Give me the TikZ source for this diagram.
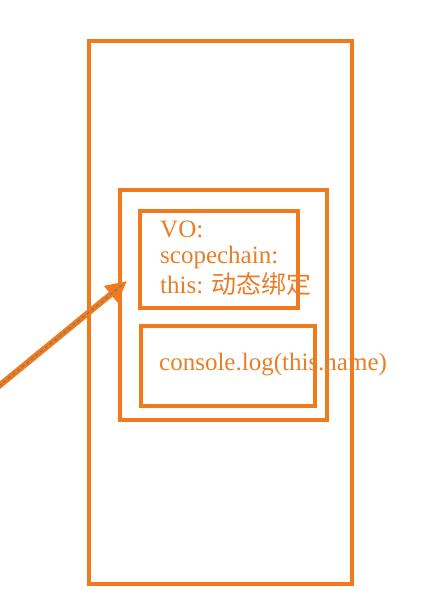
\documentclass[tikz,border=0pt]{standalone}
\usepackage{fontspec}
\setmainfont{Liberation Serif}
\newfontfamily\cjkfont{Noto Sans CJK SC}
\usetikzlibrary{arrows.meta}
\definecolor{frameorange}{RGB}{240, 122, 28}
\definecolor{textorange}{RGB}{234, 126, 40}
\definecolor{dashgray}{RGB}{120, 120, 130}

\begin{document}
\begin{tikzpicture}[x=1pt, y=-1pt,
    box/.style={draw=frameorange, line width=3.3pt, inner sep=0pt},
    label/.style={anchor=base west, inner sep=0pt, text=textorange, font=\fontsize{25}{27}\selectfont}]
    \useasboundingbox (0,0) rectangle (420,604);
    % Nested frames
    \node[box, minimum width=263pt, minimum height=543pt] (frame) at (220.5,312.5) {};
    \node[box, minimum width=207pt, minimum height=230pt] (ctx) at (223.5,305) {};
    \node[box, minimum width=158pt, minimum height=97pt] (vars) at (219,259.5) {};
    \node[box, minimum width=174pt, minimum height=80pt] (code) at (228,366) {};

    % Texts
    \node[label] (vo) at (160,237) {VO:};
    \node[label] (chain) at (160,263) {scopechain:};
    \node[label] (this) at (160,293) {this: {\cjkfont 动态绑定}};
    \node[label] (log) at (159,370) {console.log(this.name)};

    % Incoming arrow
    \coordinate (src) at (-6,390);
    \coordinate (tip) at (127,281);
    \draw[-{Triangle[length=21pt,width=20pt]}, line width=6pt, color=frameorange] (src) -- (tip);
    \draw[dash pattern=on 3pt off 3pt, line width=1.2pt, color=dashgray, shorten >=5pt] (src) -- (tip);
\end{tikzpicture}
\end{document}
